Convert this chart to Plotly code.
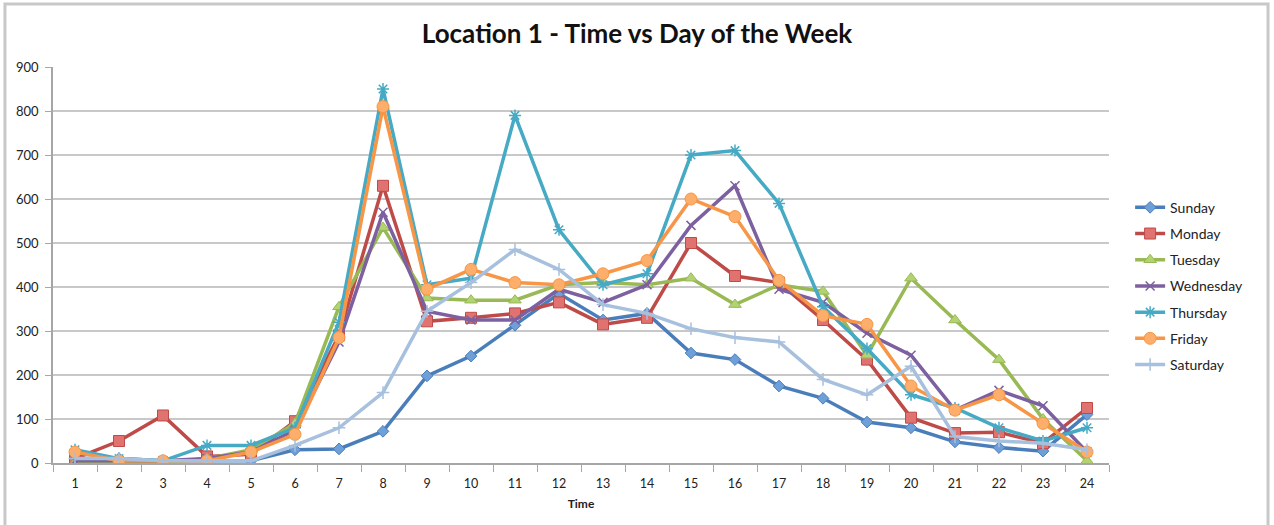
import plotly.graph_objects as go

hours = list(range(1, 25))
hour_labels = [str(h) for h in hours]

sunday    = [10, 10, 5, 5, 5, 30, 32, 72, 198, 243, 313, 385, 325, 340, 250, 235, 175, 147, 93, 80, 48, 35, 27, 110]
monday    = [10, 50, 108, 15, 20, 95, 290, 630, 322, 330, 340, 365, 315, 330, 500, 425, 410, 325, 235, 103, 68, 70, 45, 125]
tuesday   = [0, 0, 0, 10, 30, 90, 355, 535, 375, 370, 370, 405, 410, 405, 420, 360, 405, 390, 245, 420, 325, 235, 100, 5]
wednesday = [5, 5, 5, 10, 25, 75, 275, 570, 345, 325, 325, 395, 365, 405, 540, 630, 395, 365, 295, 245, 120, 165, 130, 25]
thursday  = [30, 10, 5, 40, 40, 80, 320, 850, 405, 420, 790, 530, 405, 430, 700, 710, 590, 355, 260, 155, 125, 80, 50, 80]
friday    = [25, 5, 5, 5, 25, 65, 285, 810, 395, 440, 410, 405, 430, 460, 600, 560, 415, 335, 315, 175, 120, 155, 90, 25]
saturday  = [10, 10, 5, 5, 5, 40, 80, 160, 345, 410, 485, 440, 360, 340, 305, 285, 275, 190, 155, 220, 60, 50, 45, 30]

series = [
    ("Sunday", sunday, "#4a7ebb", "#6f9fd8", "diamond", 9),
    ("Monday", monday, "#be4b48", "#e07370", "square", 11),
    ("Tuesday", tuesday, "#98b954", "#b3d373", "triangle-up", 11),
    ("Wednesday", wednesday, "#7d60a0", "#7d60a0", "x-thin", 9),
    ("Thursday", thursday, "#46aac5", "#46aac5", "asterisk", 10),
    ("Friday", friday, "#f79646", "#fdae6b", "circle", 12),
    ("Saturday", saturday, "#a7c0de", "#a7c0de", "cross-thin", 9),
]

fig = go.Figure()
for name, vals, col, fill, sym, size in series:
    thin = sym.endswith("thin") or sym == "asterisk"
    fig.add_trace(go.Scatter(
        x=hour_labels, y=vals, name=name, mode="lines+markers",
        legendgroup=name,
        line=dict(color=col, width=3.5),
        marker=dict(symbol=sym, size=size, color=fill,
                    line=dict(color=col, width=1.5 if thin else 1)),
    ))

fig.update_layout(
    width=1274, height=525,
    paper_bgcolor="white", plot_bgcolor="white",
    margin=dict(l=53, r=165, t=67, b=62),
    font=dict(family="Lato, 'Open Sans', sans-serif", size=12, color="#222"),
    title=dict(text="<b>Location 1 - Time vs Day of the Week</b>", x=0.5, xref="container",
               y=0.935, yanchor="middle", font=dict(size=26, color="#111")),
    legend=dict(x=1.02, y=0.685, xanchor="left", yanchor="top", font=dict(size=14),
                tracegroupgap=5, bgcolor="rgba(0,0,0,0)", itemwidth=30),
    showlegend=True,
)
fig.update_xaxes(
    type="category", range=[-0.5, 23.5],
    showline=True, linecolor="#a6a6a6", linewidth=1.5,
    showgrid=False, ticks="outside", ticklen=7, tickcolor="#a6a6a6",
    tickson="boundaries", tickfont=dict(size=12.5), ticklabelstandoff=8,
    title=dict(text="<b>Time</b>", font=dict(size=12), standoff=10),
)
fig.update_yaxes(
    range=[0, 900], dtick=100,
    showline=True, linecolor="#a6a6a6", linewidth=1.5,
    showgrid=True, gridcolor="#c8c8c8", gridwidth=1.5,
    ticks="outside", ticklen=6, tickcolor="#a6a6a6", tickfont=dict(size=13),
    ticklabelstandoff=4, zeroline=False,
)
fig.add_shape(type="rect", xref="paper", yref="paper",
              x0=-0.0455, x1=1.1506, y0=-0.25, y1=1.159,
              line=dict(color="#c8c8c8", width=3), layer="below")

fig.write_html("out.html", config={"displayModeBar": False},
               post_script="document.body.style.margin='0';")
